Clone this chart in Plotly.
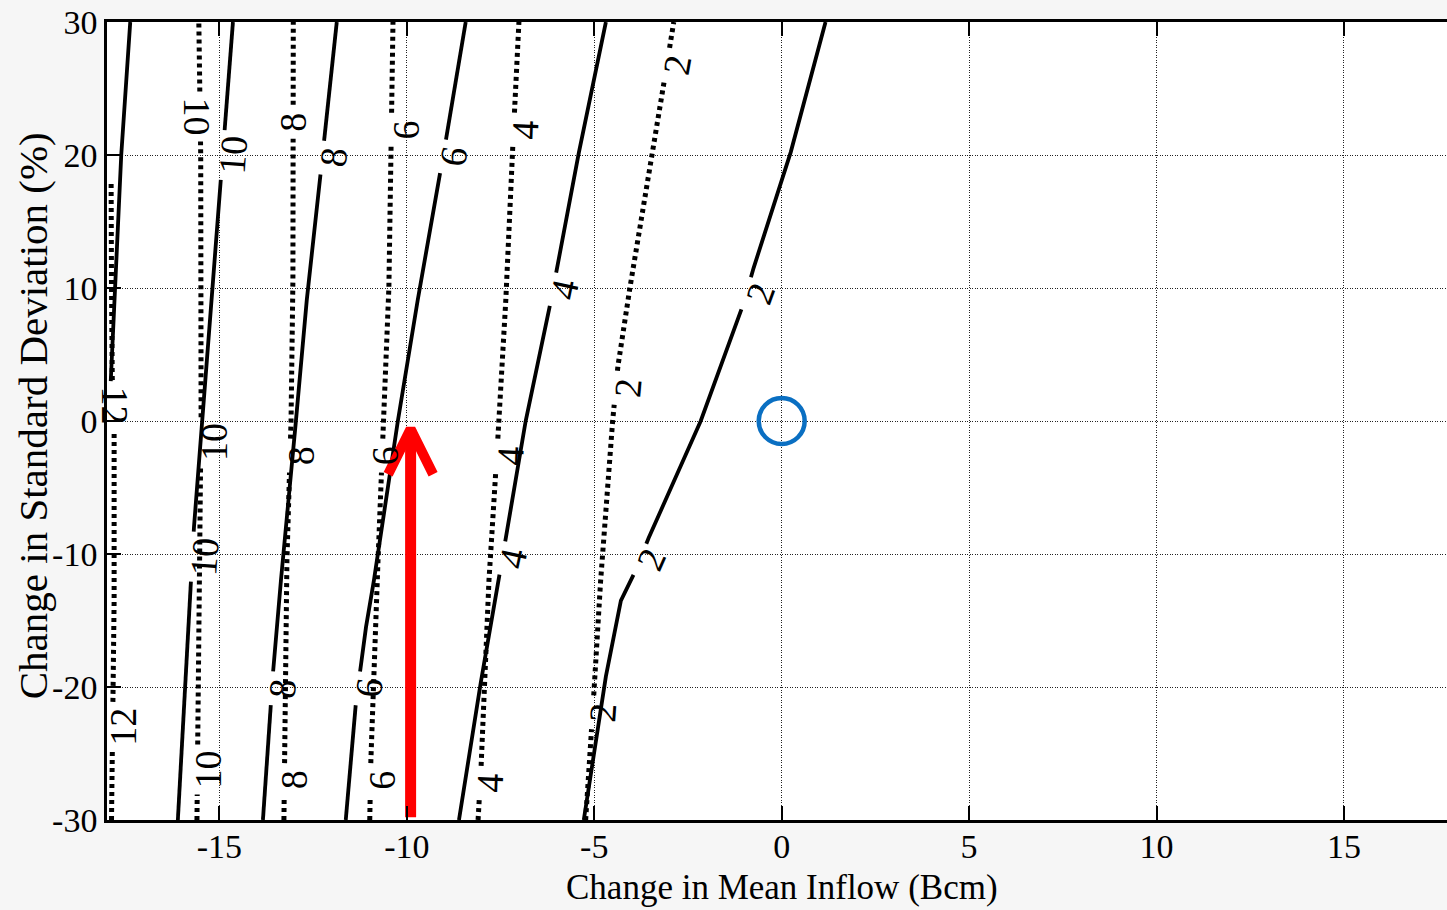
import numpy as np
import plotly.graph_objects as go

# ---- contour lines: reliability-loss levels (solid = scenario A, dotted = scenario B)
# y = change in standard deviation (%), x = change in mean inflow (Bcm)
S2_Y = [-30, -24.2, -19.2, -13.5, -11.2, -8.8, 0.0, 8.9, 11.5, 20.2, 30]
S2_X = [-5.28, -4.96, -4.69, -4.29, -3.89, -3.55, -2.16, -1.01, -0.75, 0.24, 1.17]
S4_Y = [-30, -19.7, -8.8, 0.0, 9.0, 20.2, 30]
S4_X = [-8.61, -8.03, -7.36, -6.83, -6.16, -5.41, -4.69]
S6_Y = [-30, -21.2, -15.5, -12.0, 0.0, 9.1, 21.1, 30]
S6_X = [-11.63, -11.36, -11.09, -10.88, -10.24, -9.71, -8.96, -8.43]
S8_Y = [-30, -18.9, -12.0, 0.0, 9.1, 18.9, 30]
S8_X = [-13.84, -13.57, -13.36, -12.96, -12.67, -12.29, -11.87]
S10_Y = [-30, -12.0, -8.0, 10.6, 30]
S10_X = [-16.11, -15.76, -15.68, -15.17, -14.64]
S12_Y = [3.0, 10, 20, 30]
S12_X = [-17.90, -17.78, -17.62, -17.38]

D2_Y = [-30, -20, -12, 0.0, 4.1, 10, 20.2, 30]
D2_X = [-5.23, -5.00, -4.83, -4.51, -4.37, -4.05, -3.44, -2.88]
D4_Y = [-30, -26, -12, -1.2, 9.1, 20.9, 30]
D4_X = [-8.10, -8.02, -7.81, -7.57, -7.36, -7.17, -7.01]
D6_Y = [-30, -25.5, -10.5, -1.2, 10, 30]
D6_X = [-10.99, -10.96, -10.77, -10.64, -10.48, -10.37]
D8_Y = [-30, -10.5, 0.0, 10.6, 30]
D8_X = [-13.28, -13.20, -13.09, -13.04, -13.03]
D10_Y = [-30, -10, 0.0, 10, 20, 30]
D10_X = [-15.60, -15.53, -15.49, -15.48, -15.50, -15.55]
D12_Y = [-30, -13.5, 0.0, 3.3, 10, 17.9]
D12_X = [-17.88, -17.81, -17.81, -17.86, -17.88, -17.89]

SOLID = {2: (S2_X, S2_Y), 4: (S4_X, S4_Y), 6: (S6_X, S6_Y),
         8: (S8_X, S8_Y), 10: (S10_X, S10_Y), 12: (S12_X, S12_Y)}
DOTTED = {2: (D2_X, D2_Y), 4: (D4_X, D4_Y), 6: (D6_X, D6_Y),
          8: (D8_X, D8_Y), 10: (D10_X, D10_Y), 12: (D12_X, D12_Y)}

# inline contour labels: (level, x, y, text angle)
SOLID_LABELS = [
    (2, -0.56, 9.6, -70), (2, -3.47, -10.4, -66),
    (4, -5.79, 9.9, -78), (4, -7.17, -10.3, -78),
    (6, -8.75, 19.9, -80), (6, -11.01, -20.1, -84),
    (8, -11.97, 19.8, -83), (8, -13.31, -20.1, -84),
    (10, -14.64, 20.0, -86), (10, -15.41, -10.2, -86),
]
DOTTED_LABELS = [
    (2, -2.80, 26.8, -80), (2, -4.11, 2.5, -85), (2, -4.77, -21.9, -86),
    (4, -6.85, 21.9, -88), (4, -7.25, -2.6, -88), (4, -7.79, -27.2, -88),
    (6, -10.03, 21.9, -90), (6, -10.59, -2.6, -90), (6, -10.67, -27.0, -90),
    (8, -13.04, 22.5, -90), (8, -12.83, -2.6, -90), (8, -13.01, -27.0, -90),
    (10, -15.60, 22.9, 90), (10, -15.15, -1.6, -90), (10, -15.28, -26.2, -90),
    (12, -17.80, 1.2, 90), (12, -17.58, -23.0, -90),
]

# highlighted scenario (arrow) and the historical baseline (circle)
ARROW_X = -9.9
ARROW_Y = [-29.8, -0.6]
BASE_X = [0]
BASE_Y = [0]

X_TICKS = [-15, -10, -5, 0, 5, 10, 15]
X_TICKTEXT = ["-15", "-10", "-5", "0", "5", "10", "15"]
Y_TICKS = [-30, -20, -10, 0, 10, 20, 30]
Y_TICKTEXT = ["-30", "-20", "-10", "0", "10", "20", "30"]

FONT = "Liberation Serif, Times New Roman, serif"
PX_PER_Y = 798 / 60.0  # plot height in px per y unit


def gapped(xs, ys, gaps):
    """Break a polyline (ys increasing) wherever a label sits."""
    cuts = [c for g in gaps for c in g if ys[0] < c < ys[-1]]
    all_y = sorted(set(list(ys) + cuts))
    all_x = np.interp(all_y, ys, xs)
    ox, oy = [], []
    for yv, xv in zip(all_y, all_x):
        if any(g0 < yv < g1 for g0, g1 in gaps):
            continue
        if oy and oy[-1] is not None and any(oy[-1] <= g0 and yv >= g1 for g0, g1 in gaps):
            ox.append(None)
            oy.append(None)
        ox.append(float(xv))
        oy.append(float(yv))
    return ox, oy


def label_gaps(labels, level):
    out = []
    for lv, lx, ly, ang in labels:
        if lv != level:
            continue
        half_px = 9 + 8 * len(str(lv))
        half = half_px * abs(np.sin(np.radians(ang))) / PX_PER_Y
        out.append((ly - half, ly + half))
    return out


fig = go.Figure()

for level, (xs, ys) in SOLID.items():
    gx, gy = gapped(xs, ys, label_gaps(SOLID_LABELS, level))
    fig.add_trace(go.Scatter(x=gx, y=gy, mode="lines", showlegend=False,
                             line=dict(color="black", width=3.8), hoverinfo="skip"))

for level, (xs, ys) in DOTTED.items():
    gx, gy = gapped(xs, ys, label_gaps(DOTTED_LABELS, level))
    fig.add_trace(go.Scatter(x=gx, y=gy, mode="lines", showlegend=False,
                             line=dict(color="black", width=5, dash="4px,4px"),
                             hoverinfo="skip"))

annotations = []
for lv, lx, ly, ang in SOLID_LABELS + DOTTED_LABELS:
    annotations.append(dict(x=lx, y=ly, xref="x", yref="y", text=str(lv),
                            showarrow=False, textangle=ang,
                            font=dict(family=FONT, size=38, color="black"),
                            xanchor="center", yanchor="middle"))

# red arrow: shaft plus open chevron head
fig.add_trace(go.Scatter(x=[ARROW_X, ARROW_X], y=ARROW_Y, mode="lines", showlegend=False,
                         line=dict(color="#ff0000", width=11), hoverinfo="skip"))
head_dx, head_dy = 0.6, 3.4
fig.add_trace(go.Scatter(x=[ARROW_X - head_dx, ARROW_X, ARROW_X + head_dx],
                         y=[ARROW_Y[1] - head_dy, ARROW_Y[1], ARROW_Y[1] - head_dy],
                         mode="lines", showlegend=False,
                         line=dict(color="#ff0000", width=10), hoverinfo="skip"))

# baseline marker
fig.add_trace(go.Scatter(x=BASE_X, y=BASE_Y, mode="markers", showlegend=False,
                         marker=dict(symbol="circle-open", size=46, color="#0a6fc2",
                                     line=dict(width=4.5, color="#0a6fc2")),
                         hoverinfo="skip"))

annotations.append(dict(x=0, y=-0.084, xref="x", yref="paper",
                        text="Change in Mean Inflow (Bcm)", showarrow=False,
                        font=dict(family=FONT, size=35, color="black"),
                        xanchor="center", yanchor="middle"))
annotations.append(dict(x=-0.0552, y=0.506, xref="paper", yref="paper",
                        text="Change in Standard Deviation (%)", showarrow=False,
                        textangle=-90,
                        font=dict(family=FONT, size=41, color="black"),
                        xanchor="center", yanchor="middle"))

axis_common = dict(
    showgrid=True, gridcolor="#222222", gridwidth=1, griddash="1px,1.5px",
    zeroline=False, showline=True, linecolor="black", linewidth=2.5,
    ticks="inside", ticklen=14, tickwidth=2, tickcolor="black",
    tickfont=dict(family=FONT, size=34, color="black"),
)

fig.update_layout(
    width=1447, height=910,
    margin=dict(l=107, r=0, t=22, b=90),
    paper_bgcolor="#f6f6f6", plot_bgcolor="white",
    annotations=annotations,
    xaxis=dict(range=[-18, 17.75], tickvals=X_TICKS, ticktext=X_TICKTEXT,
               mirror="ticks", ticklabelstandoff=-6, **axis_common),
    yaxis=dict(range=[-30, 30], tickvals=Y_TICKS, ticktext=Y_TICKTEXT,
               mirror=False, **axis_common),
)

fig.write_html("out.html")
